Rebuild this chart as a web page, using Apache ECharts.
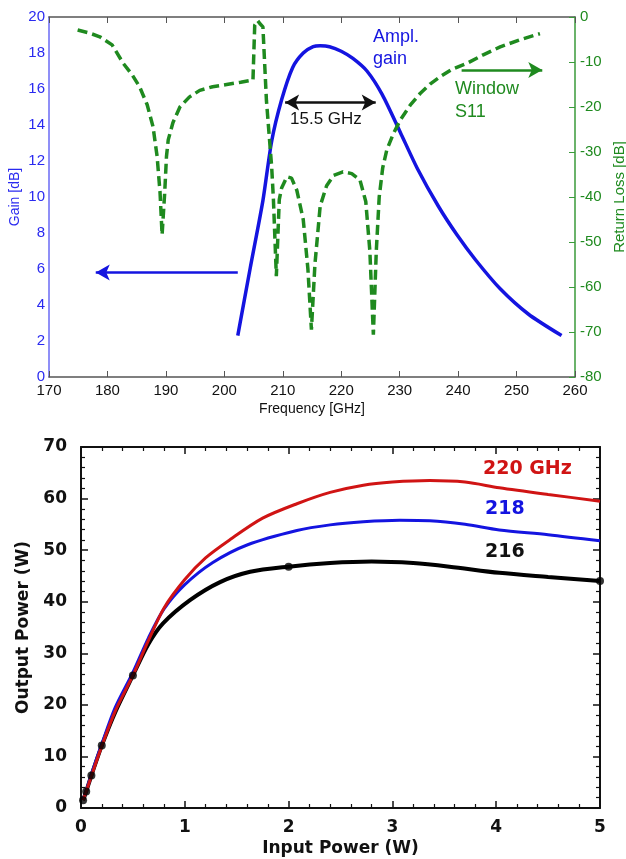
<!DOCTYPE html>
<html>
<head>
<meta charset="utf-8">
<style>
html, body { margin: 0; padding: 0; background: #fff; }
#chart { width: 626px; height: 859px; }
</style>
<script src="https://cdn.jsdelivr.net/npm/echarts@6/dist/echarts.min.js"></script>
</head>
<body>
<div id="chart"></div>
<script>
// top panel: amplifier gain and window S11 versus frequency
var gainData = [
	[202.3, 2.3], [204.4, 6.0], [206.6, 9.8], [208.1, 13.1], [209.8, 15.4], [211.7, 17.2],
	[213.5, 18.0], [215.2, 18.35], [216.4, 18.4], [218, 18.35], [220, 18.1], [222, 17.7],
	[224.4, 17.0], [227, 15.7], [230.1, 13.6], [233, 11.6], [236.6, 9.5], [239.8, 7.9],
	[243, 6.5], [247.2, 4.9], [252, 3.5], [257.7, 2.3]
];
var s11Data = [
	[174.9, -2.9], [177, -3.6], [178.7, -4.4], [180.8, -6.2], [182.7, -10.3], [184.2, -12.8],
	[185.5, -15.5], [186.8, -19.5], [187.8, -24.4], [188.5, -31], [189.0, -39], [189.35, -48.4],
	[189.8, -39], [190.1, -31], [190.4, -27.3], [191.2, -23.5], [192.4, -20], [194, -17.8],
	[195.8, -16.3], [198, -15.5], [200.4, -15], [202.8, -14.5], [204.9, -14], [205.2, -1.8],
	[205.7, -0.8], [206.1, -1.5], [206.6, -2.2], [207.2, -18.5], [208.1, -33.3], [208.4, -40.6],
	[208.9, -57.6], [209.4, -40.6], [209.8, -38], [210.7, -35.5], [211.5, -35.8], [212.4, -38.5],
	[213.5, -45], [214.3, -56], [214.9, -69.5], [215.5, -55], [216.4, -42], [217.5, -37.5],
	[218.7, -35.2], [220.3, -34.4], [221.8, -34.8], [223.2, -36.2], [224.2, -41], [224.9, -52],
	[225.5, -70.6], [226.0, -52], [226.5, -40], [227.1, -33.5], [227.8, -29.5], [228.9, -26],
	[230.1, -22.9], [231.8, -19.6], [233.5, -17], [235.2, -14.9], [236.9, -13.3], [239, -11.6],
	[241.5, -10.3], [244.3, -8.4], [247.2, -6.65], [250.5, -5.1], [254.0, -3.7]
];
// annotation arrows (data coords)
var bandArrow = [[210.4, 15.25], [225.9, 15.25]];
var gainArrow = [[202.3, 5.8], [178.0, 5.8]];
var s11Arrow = [[240.6, -11.8], [254.4, -11.8]];

// bottom panel: output power versus input power
var p220 = [
	[0.02, 1.5], [0.05, 3.2], [0.1, 6.2], [0.2, 12.0], [0.33, 18.8], [0.5, 25.7], [0.65, 32.5],
	[0.8, 38.8], [1.0, 44.3], [1.2, 48.5], [1.44, 52.1], [1.75, 56.2], [2.08, 59.0], [2.4, 61.2],
	[2.72, 62.6], [3.0, 63.2], [3.36, 63.5], [3.7, 63.2], [4.03, 62.1], [4.5, 60.8], [5.0, 59.5]
];
var p218 = [
	[0.02, 1.6], [0.05, 3.3], [0.1, 6.5], [0.2, 12.4], [0.33, 19.5], [0.5, 26.3], [0.65, 33.0],
	[0.8, 38.6], [1.0, 43.3], [1.27, 47.6], [1.6, 51.0], [2.08, 53.8], [2.4, 54.9], [2.72, 55.5],
	[3.07, 55.8], [3.36, 55.7], [3.7, 55.0], [4.03, 53.9], [4.5, 53.0], [5.0, 51.8]
];
var p216 = [
	[0.02, 1.5], [0.05, 3.2], [0.1, 6.3], [0.2, 12.1], [0.33, 18.6], [0.5, 25.7], [0.65, 31.8],
	[0.79, 35.8], [1.05, 40.3], [1.34, 43.8], [1.63, 45.8], [2.0, 46.8], [2.4, 47.5], [2.8, 47.8],
	[3.2, 47.5], [3.55, 46.8], [4.03, 45.6], [4.5, 44.8], [5.0, 44.0]
];
var p216Dots = [0.02, 0.05, 0.1, 0.2, 0.5, 2.0, 5.0];
var curveNames = ['220 GHz', '218', '216'];

var blue = '#1414e0';
var green = '#1f8a1f';
var red = '#d01414';

var myChart = echarts.init(document.getElementById('chart'));

var topFont = "'Liberation Sans', Arial, sans-serif";
var botFont = "'DejaVu Sans', Verdana, sans-serif";

function arrowLine(pts, syms, color) {
	return {
		silent: true,
		symbol: syms,
		symbolSize: [12, 14],
		label: { show: false },
		lineStyle: { color: color, width: 2.5, type: 'solid' },
		data: [[{ coord: pts[0] }, { coord: pts[1] }]]
	};
}

// plain frame axis for the bottom panel (mirror on top/right)
function frameAxis(extra) {
	var ax = {
		gridIndex: 1, type: 'value',
		axisLine: { onZero: false, lineStyle: { color: '#111', width: 2 } },
		axisTick: { inside: true, length: 7, lineStyle: { color: '#111', width: 1.5 } },
		minorTick: { show: true, splitNumber: 5, length: 4, lineStyle: { color: '#111', width: 1.2 } },
		axisLabel: { color: '#111', fontSize: 17, fontWeight: 'bold', fontFamily: botFont, margin: 12 },
		splitLine: { show: false }
	};
	for (var k in extra) ax[k] = extra[k];
	return ax;
}

var option = {
	animation: false,
	grid: [
		{ left: 49, right: 51, top: 17, bottom: 482, outerBoundsMode: 'none' },
		{ left: 81, right: 26, top: 447, bottom: 51, outerBoundsMode: 'none' }
	],
	xAxis: [
		{
			gridIndex: 0, type: 'value', min: 170, max: 260, interval: 10,
			name: 'Frequency [GHz]', nameLocation: 'middle', nameGap: 25,
			nameTextStyle: { color: '#111', fontSize: 14, fontFamily: topFont },
			axisLine: { onZero: false, lineStyle: { color: '#555', width: 1.5 } },
			axisTick: { inside: true, length: 6, lineStyle: { color: '#555' } },
			axisLabel: { color: '#111', fontSize: 15, fontFamily: topFont, margin: 6 },
			splitLine: { show: false }
		},
		{
			gridIndex: 0, type: 'value', position: 'top', min: 170, max: 260, interval: 10,
			axisLine: { onZero: false, lineStyle: { color: '#555', width: 1.5 } },
			axisTick: { inside: true, length: 6, lineStyle: { color: '#555' } },
			axisLabel: { show: false }, splitLine: { show: false }
		},
		frameAxis({
			min: 0, max: 5, interval: 1,
			name: 'Input Power (W)', nameLocation: 'middle', nameGap: 32,
			nameTextStyle: { color: '#111', fontSize: 17, fontWeight: 'bold', fontFamily: botFont },
			axisLabel: { color: '#111', fontSize: 17, fontWeight: 'bold', fontFamily: botFont, margin: 11 }
		}),
		frameAxis({ position: 'top', min: 0, max: 5, interval: 1, axisLabel: { show: false } })
	],
	yAxis: [
		{
			gridIndex: 0, type: 'value', min: 0, max: 20, interval: 2,
			name: 'Gain [dB]', nameLocation: 'middle', nameGap: 27, nameRotate: 90,
			nameMoveOverlap: false,
			nameTextStyle: { color: '#2a2af0', fontSize: 14, fontFamily: topFont },
			axisLine: { onZero: false, lineStyle: { color: '#6a6af5', width: 1.5 } },
			axisTick: { show: false },
			axisLabel: { color: '#2a2af0', fontSize: 15, fontFamily: topFont, margin: 4 },
			splitLine: { show: false }
		},
		{
			gridIndex: 0, type: 'value', position: 'right', min: -80, max: 0, interval: 10,
			name: 'Return Loss [dB]', nameLocation: 'middle', nameGap: 36, nameRotate: 90,
			nameTextStyle: { color: green, fontSize: 15, fontFamily: topFont },
			axisLine: { onZero: false, lineStyle: { color: '#3a9a3a', width: 1.5 } },
			axisTick: { inside: true, length: 6, lineStyle: { color: '#3a9a3a' } },
			axisLabel: { color: green, fontSize: 15, fontFamily: topFont, margin: 5 },
			splitLine: { show: false }
		},
		frameAxis({
			min: 0, max: 70, interval: 10,
			name: 'Output Power (W)', nameLocation: 'middle', nameGap: 49, nameRotate: 90,
			nameTextStyle: { color: '#111', fontSize: 17, fontWeight: 'bold', fontFamily: botFont },
			axisLabel: { color: '#111', fontSize: 17, fontWeight: 'bold', fontFamily: botFont, margin: 14 }
		}),
		frameAxis({ position: 'right', min: 0, max: 70, interval: 10, axisLabel: { show: false } })
	],
	series: [
		{
			name: 'Ampl. gain', type: 'line', xAxisIndex: 0, yAxisIndex: 0,
			data: gainData, smooth: 0.25, showSymbol: false,
			lineStyle: { color: blue, width: 3.5 },
			markLine: arrowLine(gainArrow, ['none', 'arrow'], blue)
		},
		{
			name: 'band', type: 'line', xAxisIndex: 0, yAxisIndex: 0,
			data: [], markLine: arrowLine(bandArrow, ['arrow', 'arrow'], '#111')
		},
		{
			name: 'Window S11', type: 'line', xAxisIndex: 0, yAxisIndex: 1,
			data: s11Data, showSymbol: false,
			lineStyle: { color: green, width: 3.5, type: [10, 5] },
			markLine: arrowLine(s11Arrow, ['none', 'arrow'], green)
		},
		{
			name: curveNames[2], type: 'line', xAxisIndex: 2, yAxisIndex: 2,
			data: p216, smooth: 0.3, showSymbol: false, z: 2,
			lineStyle: { color: '#000', width: 4 }
		},
		{
			name: curveNames[1], type: 'line', xAxisIndex: 2, yAxisIndex: 2,
			data: p218, smooth: 0.3, showSymbol: false, z: 3,
			lineStyle: { color: blue, width: 3 }
		},
		{
			name: curveNames[0], type: 'line', xAxisIndex: 2, yAxisIndex: 2,
			data: p220, smooth: 0.3, showSymbol: false, z: 4,
			lineStyle: { color: red, width: 3 }
		},
		{
			name: curveNames[2] + ' pts', type: 'scatter', xAxisIndex: 2, yAxisIndex: 2,
			data: p216.filter(function (p) { return p216Dots.indexOf(p[0]) >= 0; }),
			symbolSize: 8, z: 5, itemStyle: { color: '#000' }
		}
	],
	graphic: [
		{ type: 'text', left: 373, top: 26, style: { text: 'Ampl.\ngain', fill: blue, font: '18px ' + topFont, lineHeight: 22 } },
		{ type: 'text', left: 455, top: 78, style: { text: 'Window\nS11', fill: green, font: '18px ' + topFont, lineHeight: 23 } },
		{ type: 'text', left: 290, top: 111, style: { text: '15.5 GHz', fill: '#111', font: '17px ' + topFont } },
		{ type: 'text', left: 483, top: 460, style: { text: curveNames[0], fill: red, font: 'bold 19px ' + botFont } },
		{ type: 'text', left: 485, top: 500, style: { text: curveNames[1], fill: blue, font: 'bold 19px ' + botFont } },
		{ type: 'text', left: 485, top: 543, style: { text: curveNames[2], fill: '#111', font: 'bold 19px ' + botFont } }
	]
};

myChart.setOption(option);
</script>
</body>
</html>
